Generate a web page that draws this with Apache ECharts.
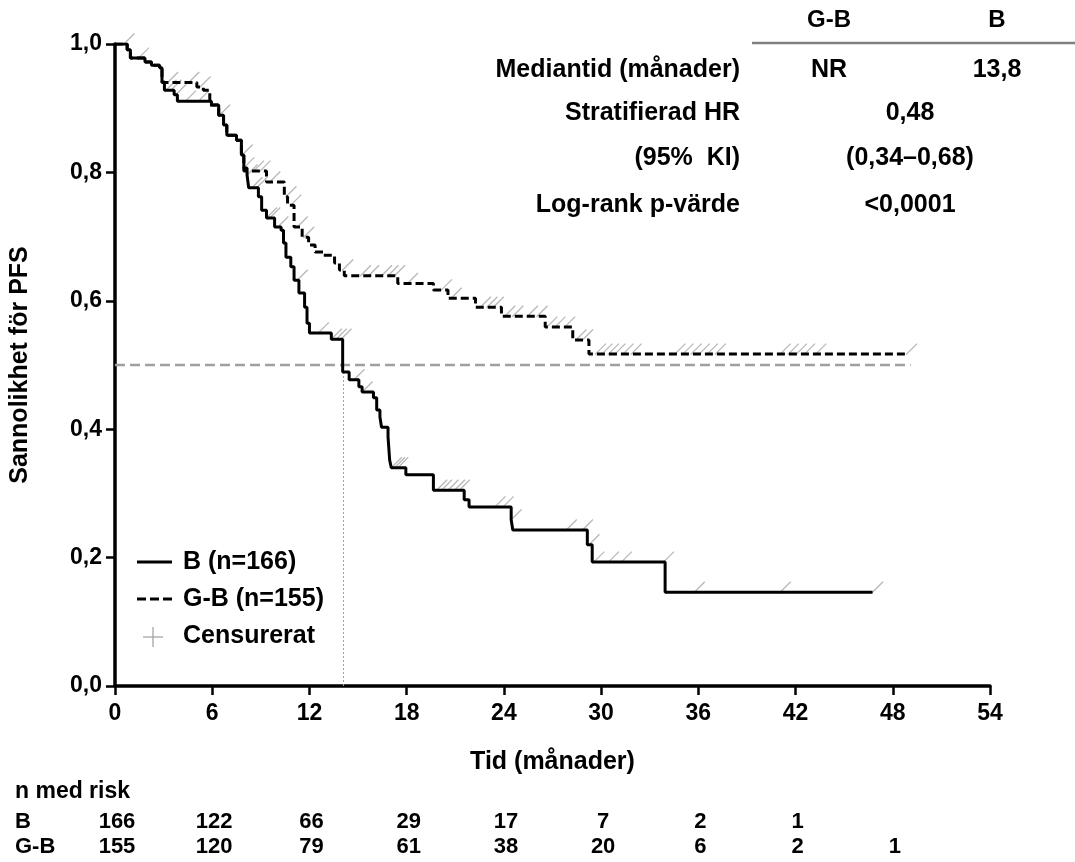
<!DOCTYPE html>
<html>
<head>
<meta charset="utf-8">
<script src="https://cdn.jsdelivr.net/npm/echarts@6/dist/echarts.min.js"></script>
<style>
  html, body { margin: 0; padding: 0; background: #fff; }
  #main { width: 1075px; height: 862px; }
</style>
</head>
<body>
<div id="main"></div>
<script>
// B (heldragen): tidpunkt för steg och nivå efter steget
const bTimes = [0, 0.75, 0.95, 1.85, 2.25, 2.75, 2.9, 3.05, 3.65, 3.85, 5.95, 6.4, 6.7, 6.9, 7.5, 7.8, 7.95, 8.15, 8.25, 8.85, 9.05, 9.35, 9.85, 10.25, 10.4, 10.55, 10.85, 11.05, 11.35, 11.7, 11.85, 12.0, 13.35, 14.05, 14.45, 15.05, 15.25, 15.95, 16.15, 16.35, 16.45, 16.85, 16.95, 17.05, 17.95, 19.65, 21.55, 21.85, 24.45, 24.55, 29.15, 29.45, 33.95, 46.75]
const bSurv = [1.0, 0.991, 0.978, 0.972, 0.967, 0.963, 0.941, 0.928, 0.921, 0.911, 0.905, 0.889, 0.874, 0.858, 0.850, 0.827, 0.807, 0.796, 0.776, 0.762, 0.741, 0.729, 0.715, 0.710, 0.690, 0.668, 0.653, 0.632, 0.612, 0.590, 0.565, 0.550, 0.540, 0.489, 0.477, 0.466, 0.458, 0.449, 0.430, 0.419, 0.403, 0.388, 0.352, 0.340, 0.329, 0.305, 0.290, 0.279, 0.259, 0.243, 0.220, 0.193, 0.146, 0.146]
// G-B (streckad)
const gbTimes = [0, 0.75, 0.95, 1.85, 2.25, 2.75, 2.9, 5.05, 5.45, 5.85, 6.4, 6.7, 6.9, 7.5, 7.8, 7.95, 9.35, 10.45, 10.65, 11.05, 11.55, 11.95, 12.35, 12.85, 13.55, 13.85, 14.15, 17.45, 19.65, 20.55, 22.25, 23.85, 26.55, 28.25, 29.25, 48.85]
const gbSurv = [1.0, 0.991, 0.978, 0.972, 0.967, 0.963, 0.940, 0.933, 0.928, 0.905, 0.889, 0.874, 0.858, 0.850, 0.827, 0.802, 0.785, 0.762, 0.749, 0.715, 0.699, 0.687, 0.676, 0.671, 0.659, 0.648, 0.639, 0.627, 0.617, 0.604, 0.590, 0.576, 0.559, 0.539, 0.517, 0.517]
// censurerade tider (månader)
const bCensor = [0.55, 1.45, 3.15, 3.45, 3.75, 4.35, 5.15, 6.45, 7.95, 8.15, 8.45, 8.75, 9.35, 9.55, 10.05, 11.25, 12.55, 13.35, 13.65, 13.95, 14.75, 15.25, 17.05, 17.25, 17.45, 19.85, 20.15, 20.55, 20.95, 21.25, 23.45, 23.95, 24.45, 27.85, 28.85, 29.25, 29.55, 30.45, 31.25, 33.85, 35.75, 41.05, 46.75]
const gbCensor = [3.25, 4.55, 5.25, 7.85, 8.55, 8.95, 9.55, 10.55, 10.85, 11.25, 11.65, 14.05, 15.15, 15.65, 16.45, 16.85, 17.25, 18.05, 20.15, 20.75, 22.55, 22.95, 23.35, 24.05, 24.55, 25.45, 26.05, 26.65, 27.15, 27.75, 28.45, 28.85, 29.65, 30.05, 30.45, 30.85, 31.35, 31.85, 34.55, 35.05, 35.55, 36.05, 36.55, 37.05, 41.05, 41.55, 42.05, 42.55, 43.25, 48.85]
// median (referenslinjer)
const medianB = 14.1
const refEnd = 49.1
// n med risk
const riskTimes = [0, 6, 12, 18, 24, 30, 36, 42, 48]
const riskB = [166, 122, 66, 29, 17, 7, 2, 1]
const riskGB = [155, 120, 79, 61, 38, 20, 6, 2, 1]
// tabell
const tableRows = ['Mediantid (månader)', 'Stratifierad HR', '(95%  KI)', 'Log-rank p-värde']

let font = "'Liberation Sans', Arial, sans-serif"

let survAt = (times, surv, t) => {
  let s = surv[0]
  for (let i = 0; i < times.length; i++) {
    if (times[i] <= t) s = surv[i]
  }
  return s
}
let pairs = (times, surv) => times.map((t, i) => [t, surv[i]])
let censorPts = (list, times, surv) => list.map(t => [t, survAt(times, surv, t)])

let chart = echarts.init(document.getElementById('main'))

let censorStyle = {
  type: 'scatter',
  symbol: 'path://M0,10L10,0',
  symbolSize: 11,
  symbolOffset: [5, -5],
  itemStyle: { color: 'none', borderColor: '#a6a6a6', borderWidth: 1.3 },
  silent: true,
  z: 1
}

let option = {
  animation: false,
  grid: { left: 113, right: 85, top: 44, bottom: 176 },
  xAxis: {
    type: 'value',
    min: 0, max: 54, interval: 6,
    name: 'Tid (månader)',
    nameLocation: 'middle',
    nameGap: 64,
    nameTextStyle: { fontFamily: font, fontWeight: 'bold', fontSize: 25, color: '#000' },
    axisLine: { lineStyle: { color: '#000', width: 3.5 } },
    axisTick: { length: 9, lineStyle: { color: '#000', width: 2.5 } },
    axisLabel: { fontFamily: font, fontWeight: 'bold', fontSize: 23, color: '#000', margin: 16 },
    splitLine: { show: false }
  },
  yAxis: {
    type: 'value',
    min: 0, max: 1, interval: 0.2,
    name: 'Sannolikhet för PFS',
    nameLocation: 'middle',
    nameGap: 82,
    nameTextStyle: { fontFamily: font, fontWeight: 'bold', fontSize: 25, color: '#000' },
    axisLine: { show: true, lineStyle: { color: '#000', width: 3.5 } },
    axisTick: { show: true, length: 9, lineStyle: { color: '#000', width: 2.5 } },
    axisLabel: {
      fontFamily: font, fontWeight: 'bold', fontSize: 23, color: '#000', margin: 13,
      formatter: v => v.toFixed(1).replace('.', ',')
    },
    splitLine: { show: false }
  },
  series: [
    {
      name: 'median', type: 'line', silent: true, symbol: 'none', z: 0,
      data: [[0, 0.5], [refEnd, 0.5]],
      lineStyle: { color: '#a0a0a0', width: 2.5, type: [10, 5] }
    },
    {
      name: 'medianB', type: 'line', silent: true, symbol: 'none', z: 0,
      data: [[medianB, 0], [medianB, 0.5]],
      lineStyle: { color: '#a0a0a0', width: 1, type: [2, 2] }
    },
    Object.assign({ name: 'cens G-B', data: censorPts(gbCensor, gbTimes, gbSurv) }, censorStyle),
    Object.assign({ name: 'cens B', data: censorPts(bCensor, bTimes, bSurv) }, censorStyle),
    {
      name: 'G-B (n=155)', type: 'line', step: 'end', symbol: 'none', z: 3,
      data: pairs(gbTimes, gbSurv),
      lineStyle: { color: '#000', width: 3, type: [8, 4] }
    },
    {
      name: 'B (n=166)', type: 'line', step: 'end', symbol: 'none', z: 4,
      data: pairs(bTimes, bSurv),
      lineStyle: { color: '#000', width: 3 }
    }
  ]
}
chart.setOption(option)

// texter: tabell, förklaring, n med risk
let txt = (text, x, y, align, size) => ({
  type: 'text', silent: true,
  style: {
    text: text, x: x, y: y, fill: '#000',
    font: 'bold ' + (size || 25) + 'px ' + font,
    textAlign: align || 'left', textVerticalAlign: 'middle'
  }
})
let graphics = []
// tabell överst till höger
graphics.push(txt('G-B', 829, 20, 'center', 24))
graphics.push(txt('B', 997, 20, 'center', 24))
graphics.push({
  type: 'line', silent: true,
  shape: { x1: 752, y1: 43, x2: 1075, y2: 43 },
  style: { stroke: '#808080', lineWidth: 2.5 }
})
let rowY = [70, 113, 158, 205]
tableRows.forEach((r, i) => graphics.push(txt(r, 740, rowY[i], 'right')))
graphics.push(txt('NR', 829, rowY[0], 'center'))
graphics.push(txt('13,8', 997, rowY[0], 'center'))
graphics.push(txt('0,48', 910, rowY[1], 'center'))
graphics.push(txt('(0,34–0,68)', 910, rowY[2], 'center'))
graphics.push(txt('<0,0001', 910, rowY[3], 'center'))

// förklaring
graphics.push({
  type: 'line', silent: true,
  shape: { x1: 137, y1: 562, x2: 172, y2: 562 },
  style: { stroke: '#000', lineWidth: 3 }
})
graphics.push({
  type: 'line', silent: true,
  shape: { x1: 137, y1: 599, x2: 172, y2: 599 },
  style: { stroke: '#000', lineWidth: 3, lineDash: [9, 4] }
})
graphics.push({
  type: 'line', silent: true,
  shape: { x1: 143, y1: 637, x2: 163, y2: 637 },
  style: { stroke: '#a6a6a6', lineWidth: 1.3 }
})
graphics.push({
  type: 'line', silent: true,
  shape: { x1: 153, y1: 627, x2: 153, y2: 647 },
  style: { stroke: '#a6a6a6', lineWidth: 1.3 }
})
graphics.push(txt('B (n=166)', 183, 562, 'left'))
graphics.push(txt('G-B (n=155)', 183, 599, 'left'))
graphics.push(txt('Censurerat', 183, 636, 'left'))

// n med risk
graphics.push(txt('n med risk', 15, 792, 'left', 23))
graphics.push(txt('B', 15, 822, 'left', 22))
graphics.push(txt('G-B', 15, 847, 'left', 22))
riskTimes.forEach((t, i) => {
  let x = chart.convertToPixel({ xAxisIndex: 0 }, t) + 2
  if (riskB[i] !== undefined) graphics.push(txt(String(riskB[i]), x, 822, 'center', 22))
  if (riskGB[i] !== undefined) graphics.push(txt(String(riskGB[i]), x, 847, 'center', 22))
})
chart.setOption({ graphic: graphics })
</script>
</body>
</html>
